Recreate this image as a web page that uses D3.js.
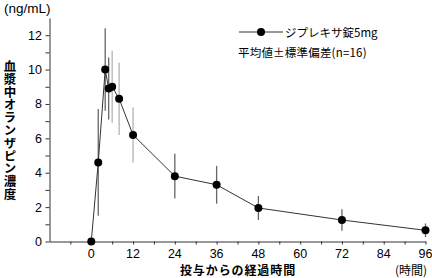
<!DOCTYPE html>
<html>
<head>
<meta charset="utf-8">
<script src="https://cdn.jsdelivr.net/npm/d3@7"></script>
<style>
  body { margin: 0; background: #fff; }
  svg { display: block; }
  .num { font-family: "Liberation Sans", Arial, sans-serif; font-size: 12.5px; fill: #000; }
  .jp { font-family: "Noto Sans CJK JP", sans-serif; fill: #000; }
</style>
</head>
<body>
<div id="graf"></div>
<script>
// Data
const horas = [0, 2, 4, 5, 6, 8, 12, 24, 36, 48, 72, 96]
const media = [0, 4.6, 10.0, 8.9, 9.0, 8.3, 6.2, 3.8, 3.3, 1.95, 1.25, 0.65]
const desv = [0, 3.1, 2.4, 1.8, 2.1, 2.1, 1.6, 1.3, 1.1, 0.7, 0.63, 0.4]
const xTicks = [0, 12, 24, 36, 48, 60, 72, 84, 96]
const yTicks = [0, 2, 4, 6, 8, 10, 12]

const data = horas.map((h, i) => ({ h: h, m: media[i], sd: desv[i] }))

const anchoTotal = 432
const altoTotal = 278

const svg = d3
  .select("#graf")
  .append("svg")
  .attr("width", anchoTotal)
  .attr("height", altoTotal)

// Escaladores
const x = d3.scaleLinear().domain([-12, 96]).range([49.5, 425.5])
const y = d3.scaleLinear().domain([0, 13]).range([241.5, 18])

// Ejes
const xAxisGroup = svg
  .append("g")
  .attr("transform", `translate(0, ${y(0)})`)
  .call(
    d3.axisBottom(x)
      .tickValues(d3.range(-6, 97, 6))
      .tickSize(3)
      .tickFormat("")
      .tickSizeOuter(0)
  )
xAxisGroup.selectAll("path, line").attr("stroke", "#333")

svg
  .append("g")
  .selectAll("text")
  .data(xTicks)
  .join("text")
  .attr("class", "num")
  .attr("x", (d) => x(d))
  .attr("y", 258)
  .attr("text-anchor", "middle")
  .text((d) => d)

const yAxisGroup = svg
  .append("g")
  .attr("transform", `translate(${x(-12)}, 0)`)
  .call(
    d3.axisLeft(y)
      .tickValues(d3.range(0, 13, 1))
      .tickSize(4)
      .tickFormat("")
      .tickSizeOuter(0)
  )
yAxisGroup.selectAll("path, line").attr("stroke", "#333")

svg
  .append("g")
  .selectAll("text")
  .data(yTicks)
  .join("text")
  .attr("class", "num")
  .attr("x", 42)
  .attr("y", (d) => y(d) + 4.5)
  .attr("text-anchor", "end")
  .text((d) => d)

// Barras de error
const claras = new Set([6, 8, 12])
svg
  .append("g")
  .selectAll("line")
  .data(data.filter((d) => d.sd > 0))
  .join("line")
  .attr("x1", (d) => x(d.h))
  .attr("x2", (d) => x(d.h))
  .attr("y1", (d) => y(d.m + d.sd))
  .attr("y2", (d) => y(d.m - d.sd))
  .attr("stroke", (d) => (claras.has(d.h) ? "#b4b4b4" : "#666"))
  .attr("stroke-width", 1.3)

// Linea
svg
  .append("path")
  .datum(data)
  .attr("fill", "none")
  .attr("stroke", "#333")
  .attr("stroke-width", 1)
  .attr("d", d3.line().x((d) => x(d.h)).y((d) => y(d.m)))

svg
  .append("g")
  .selectAll("circle")
  .data(data)
  .join("circle")
  .attr("cx", (d) => x(d.h))
  .attr("cy", (d) => y(d.m))
  .attr("r", 4)
  .attr("fill", "#000")

// Leyenda
svg.append("line")
  .attr("x1", 239).attr("x2", 283).attr("y1", 32).attr("y2", 32)
  .attr("stroke", "#333")
svg.append("circle").attr("cx", 261).attr("cy", 32).attr("r", 4).attr("fill", "#000")
svg.append("text")
  .attr("class", "jp")
  .attr("x", 285).attr("y", 36.5)
  .attr("font-size", 11.5)
  .text("ジプレキサ錠5mg")
svg.append("text")
  .attr("class", "jp")
  .attr("x", 238).attr("y", 56.5)
  .attr("font-size", 11.5)
  .style("letter-spacing", "0.2px")
  .text("平均値±標準偏差(n=16)")

// Titulos
svg.append("text")
  .attr("class", "num")
  .attr("x", 4).attr("y", 13)
  .attr("font-size", 13)
  .style("font-size", "13.5px")
  .text("(ng/mL)")

svg.append("text")
  .attr("class", "jp")
  .attr("x", 10).attr("y", 60)
  .attr("font-size", 12.5)
  .attr("font-weight", "bold")
  .style("writing-mode", "vertical-rl")
  .style("letter-spacing", "0.3px")
  .text("血漿中オランザピン濃度")

svg.append("text")
  .attr("class", "jp")
  .attr("x", 238).attr("y", 274.5)
  .attr("font-size", 12)
  .attr("font-weight", "bold")
  .attr("text-anchor", "middle")
  .style("letter-spacing", "0.9px")
  .text("投与からの経過時間")

svg.append("text")
  .attr("class", "jp")
  .attr("x", 427).attr("y", 274.5)
  .attr("font-size", 12)
  .attr("text-anchor", "end")
  .text("(時間)")
</script>
</body>
</html>
